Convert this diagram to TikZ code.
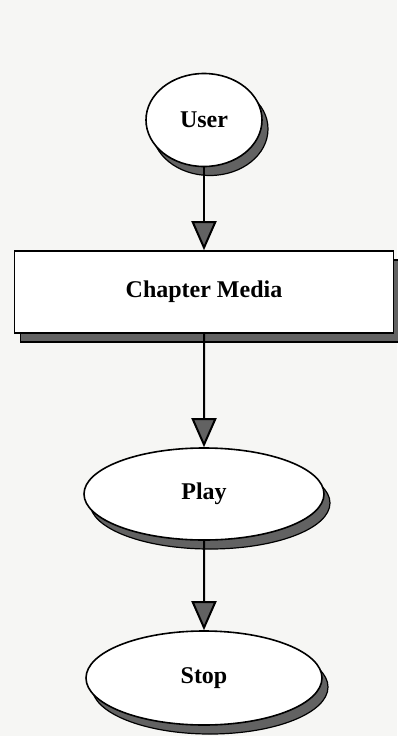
\documentclass[tikz,border=0pt]{standalone}
\usepackage{fontspec}
\setmainfont{Liberation Serif}
\usetikzlibrary{arrows.meta,shapes.geometric,shadows}

\definecolor{paper}{RGB}{246,246,244}
\definecolor{shade}{RGB}{98,98,98}

\begin{document}
\begin{tikzpicture}[x=1pt,y=1pt,
every node/.style = {draw, line width=1.6pt, fill=white,
   font=\fontsize{24}{28}\selectfont\bfseries,
   general shadow={fill=shade, draw=black, line width=1.2pt,
      shadow xshift=6pt, shadow yshift=-9pt}},
oval/.style 2 args = {ellipse, minimum width=#1, minimum height=#2},
block/.style = {rectangle, minimum width=379pt, minimum height=82pt},
level 1/.style = {level distance=172pt},
level 2/.style = {level distance=202pt},
level 3/.style = {level distance=184pt},
edge from parent/.style = {draw, line width=2pt,
   -{Triangle[length=29pt,width=25pt,fill=shade]}},
parent anchor=south, child anchor=north]
\fill[paper] (0,0) rectangle (397,-736);
\useasboundingbox (0,0) rectangle (397,-736);
\node (user) [oval={116pt}{93pt}] at (204,-120) {User}
   child {node (media) [block] {Chapter Media}
      child {node (play) [oval={240pt}{92pt}] {Play}
         child {node (stop) [oval={236pt}{94pt}] {Stop}}
         }
      };
\end{tikzpicture}
\end{document}
